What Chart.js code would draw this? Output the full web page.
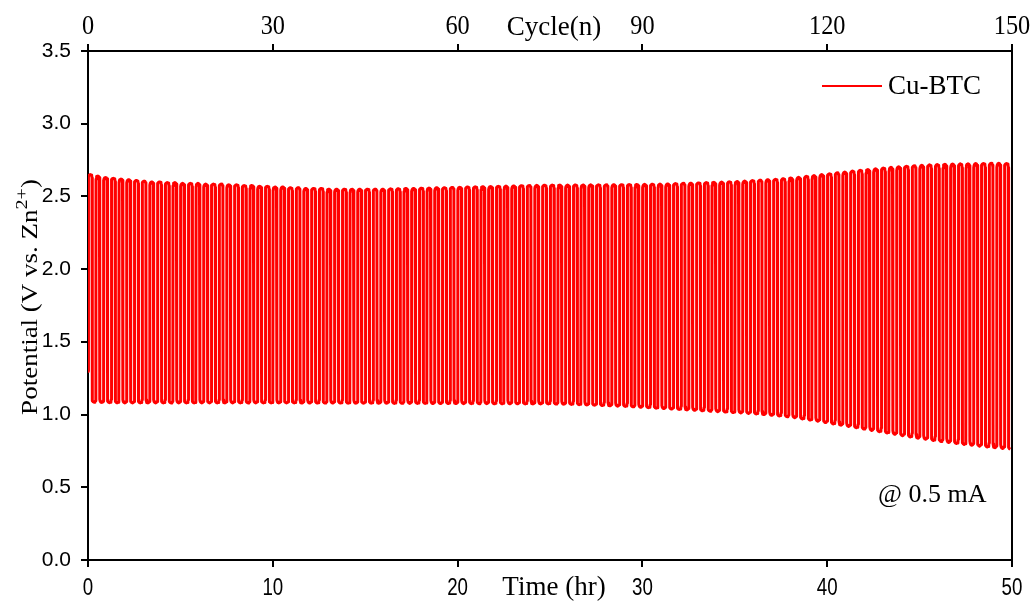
<!DOCTYPE html>
<html>
<head>
<meta charset="utf-8">
<script src="https://cdn.jsdelivr.net/npm/chart.js@4.4.1/dist/chart.umd.min.js"></script>
<style>
  html, body { margin: 0; padding: 0; background: #fff; }
  canvas { display: block; }
</style>
</head>
<body>
<canvas id="gcdChart" width="1035" height="601"></canvas>
<script>
// axis ticks
const timeTicks = [0, 10, 20, 30, 40, 50];
const cycleTicks = [0, 30, 60, 90, 120, 150];
const potentialTicks = [0, 0.5, 1.0, 1.5, 2.0, 2.5, 3.0, 3.5];

// potential at t = 0, then the top and bottom of every charge/discharge loop (V)
const startPotential = 1.28;
const peakPotential = [
  2.65, 2.64, 2.63, 2.625, 2.62, 2.615, 2.61, 2.605, 2.60, 2.60,
  2.595, 2.595, 2.59, 2.59, 2.59, 2.585, 2.585, 2.585, 2.58, 2.58,
  2.575, 2.575, 2.57, 2.57, 2.565, 2.565, 2.56, 2.56, 2.555, 2.555,
  2.555, 2.55, 2.55, 2.55, 2.55, 2.55, 2.55, 2.55, 2.55, 2.552,
  2.553, 2.555, 2.555, 2.557, 2.558, 2.56, 2.56, 2.562, 2.563, 2.565,
  2.566, 2.567, 2.568, 2.57, 2.571, 2.572, 2.574, 2.575, 2.576, 2.577,
  2.578, 2.578, 2.578, 2.579, 2.579, 2.58, 2.58, 2.58, 2.581, 2.581,
  2.582, 2.582, 2.583, 2.584, 2.585, 2.586, 2.588, 2.59, 2.591, 2.593,
  2.595, 2.597, 2.599, 2.601, 2.603, 2.606, 2.609, 2.612, 2.615, 2.618,
  2.622, 2.627, 2.632, 2.638, 2.644, 2.65, 2.656, 2.662, 2.668, 2.674,
  2.68, 2.685, 2.69, 2.695, 2.70, 2.704, 2.708, 2.711, 2.714, 2.717,
  2.719, 2.721, 2.723, 2.724, 2.725, 2.726, 2.727, 2.728, 2.728, 2.727
];
const troughPotential = [
  1.085, 1.083, 1.082, 1.081, 1.08, 1.08, 1.08, 1.08, 1.08, 1.08,
  1.08, 1.08, 1.08, 1.08, 1.08, 1.08, 1.08, 1.08, 1.08, 1.08,
  1.08, 1.08, 1.08, 1.08, 1.08, 1.08, 1.08, 1.079, 1.079, 1.079,
  1.079, 1.079, 1.079, 1.078, 1.078, 1.078, 1.078, 1.078, 1.078, 1.077,
  1.077, 1.077, 1.077, 1.077, 1.076, 1.076, 1.076, 1.076, 1.075, 1.075,
  1.075, 1.075, 1.074, 1.074, 1.074, 1.074, 1.073, 1.073, 1.073, 1.073,
  1.072, 1.071, 1.07, 1.068, 1.066, 1.064, 1.062, 1.06, 1.058, 1.056,
  1.053, 1.05, 1.047, 1.044, 1.041, 1.038, 1.035, 1.032, 1.029, 1.026,
  1.023, 1.02, 1.017, 1.014, 1.011, 1.008, 1.004, 1.0, 0.995, 0.99,
  0.985, 0.978, 0.97, 0.962, 0.954, 0.945, 0.936, 0.927, 0.918, 0.909,
  0.90, 0.891, 0.882, 0.873, 0.864, 0.855, 0.846, 0.838, 0.83, 0.822,
  0.815, 0.808, 0.801, 0.795, 0.789, 0.783, 0.777, 0.772, 0.767, 0.762
];

// shape of one loop: fraction of the period, fraction of the swing
const loopPhase = [0, 0.12, 0.2, 0.24, 0.26, 0.3, 0.38, 0.5, 0.62, 0.7, 0.74, 0.76, 0.8, 0.88, 1];
const loopLevel = [0, 0.002, 0.006, 0.014, 0.986, 0.994, 0.998, 1, 0.998, 0.994, 0.986, 0.014, 0.006, 0.002, 0];

const period = 50 / peakPotential.length;
const points = [];
peakPotential.forEach((peak, k) => {
  const prev = k === 0 ? startPotential : troughPotential[k - 1];
  const trough = troughPotential[k];
  loopPhase.forEach((ph, i) => {
    if (k > 0 && i === 0) return;
    const base = ph <= 0.5 ? prev : trough;
    points.push({ x: (k + ph - 0.22) * period, y: base + loopLevel[i] * (peak - base) });
  });
});

function putText(ctx, text, x, y, font, sx, align) {
  ctx.save();
  ctx.translate(x, y);
  ctx.scale(sx, 1);
  ctx.font = font;
  ctx.textAlign = align || 'center';
  ctx.textBaseline = 'middle';
  ctx.fillText(text, 0, 0);
  ctx.restore();
}

const serif = '"Liberation Serif", "Times New Roman", serif';
const sans = '"Liberation Sans", Arial, sans-serif';

const labelPlugin = {
  id: 'labels',
  afterDraw(chart) {
    const { ctx, chartArea: a, scales } = chart;
    const midX = (a.left + a.right) / 2 + 4;
    ctx.save();
    ctx.fillStyle = '#000';

    scales.x.ticks.forEach(t => putText(ctx, String(t.value), scales.x.getPixelForValue(t.value), 588, '24px ' + sans, 0.78));
    scales.x2.ticks.forEach(t => putText(ctx, String(t.value), scales.x2.getPixelForValue(t.value), 27, '27px ' + serif, 0.9));
    scales.y.ticks.forEach(t => putText(ctx, t.value.toFixed(1), 71, scales.y.getPixelForValue(t.value), '20px ' + sans, 1.05, 'right'));

    putText(ctx, 'Time (hr)', midX, 588, '27px ' + serif, 1);
    putText(ctx, 'Cycle(n)', midX, 28, '27px ' + serif, 1);

    // y title with superscript
    ctx.save();
    ctx.translate(30, 297);
    ctx.rotate(-Math.PI / 2);
    ctx.scale(1, 0.82);
    ctx.textBaseline = 'middle';
    ctx.textAlign = 'left';
    const main = 'Potential (V vs. Zn', sup = '2+', tail = ')';
    ctx.font = '27px ' + serif;
    const w1 = ctx.measureText(main).width, w3 = ctx.measureText(tail).width;
    ctx.font = '20px ' + serif;
    const w2 = ctx.measureText(sup).width;
    let x0 = -(w1 + w2 + w3) / 2;
    ctx.font = '27px ' + serif;
    ctx.fillText(main, x0, 2);
    ctx.font = '20px ' + serif;
    ctx.fillText(sup, x0 + w1, -9);
    ctx.font = '27px ' + serif;
    ctx.fillText(tail, x0 + w1 + w2, 2);
    ctx.restore();

    // legend
    ctx.strokeStyle = '#ff0000';
    ctx.lineWidth = 2;
    ctx.beginPath();
    ctx.moveTo(822, 86);
    ctx.lineTo(882, 86);
    ctx.stroke();
    putText(ctx, 'Cu-BTC', 888, 87, '27px ' + serif, 1, 'left');

    putText(ctx, '@ 0.5 mA', 878, 495, '26px ' + serif, 1, 'left');
    ctx.restore();
  }
};

const axisLine = { color: '#000', width: 2 };
const tickGrid = { drawOnChartArea: false, color: '#000', lineWidth: 2, tickLength: 7 };

new Chart(document.getElementById('gcdChart').getContext('2d'), {
  type: 'line',
  data: {
    datasets: [{
      label: 'Cu-BTC',
      data: points,
      borderColor: '#ff0000',
      borderWidth: 3,
      borderJoinStyle: 'round',
      pointRadius: 0,
      tension: 0,
      xAxisID: 'x',
      yAxisID: 'y'
    }]
  },
  options: {
    responsive: false,
    animation: false,
    events: [],
    layout: { padding: 0 },
    plugins: { legend: { display: false }, tooltip: { enabled: false } },
    scales: {
      x: {
        type: 'linear', position: 'bottom', min: 0, max: 50,
        afterBuildTicks: s => { s.ticks = timeTicks.map(v => ({ value: v })); },
        ticks: { display: false },
        grid: tickGrid, border: axisLine,
        afterFit: s => { s.height = 41; }
      },
      x2: {
        type: 'linear', position: 'top', min: 0, max: 150,
        afterBuildTicks: s => { s.ticks = cycleTicks.map(v => ({ value: v })); },
        ticks: { display: false },
        grid: tickGrid, border: axisLine,
        afterFit: s => { s.height = 51; }
      },
      y: {
        type: 'linear', position: 'left', min: 0, max: 3.5,
        afterBuildTicks: s => { s.ticks = potentialTicks.map(v => ({ value: v })); },
        ticks: { display: false },
        grid: tickGrid, border: axisLine,
        afterFit: s => { s.width = 88; }
      },
      y2: {
        type: 'linear', position: 'right', min: 0, max: 3.5,
        ticks: { display: false },
        grid: { drawOnChartArea: false, drawTicks: false },
        border: axisLine,
        afterFit: s => { s.width = 23; }
      }
    }
  },
  plugins: [labelPlugin]
});
</script>
</body>
</html>
